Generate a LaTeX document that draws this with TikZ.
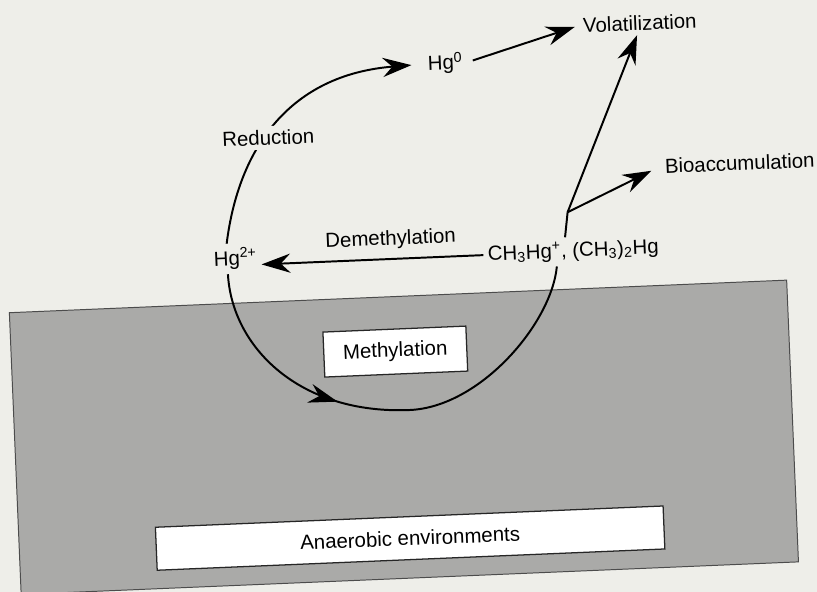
\documentclass[tikz,border=0pt]{standalone}
\usepackage{fontspec}
\setmainfont{Liberation Sans}
\usepackage{tikz}
\usetikzlibrary{arrows.meta,calc,decorations.markings}
\definecolor{paper}{RGB}{238,238,233}
\definecolor{sediment}{RGB}{170,170,168}

\begin{document}
\begin{tikzpicture}[x=0.025cm,y=-0.025cm,
  lbl/.style={font=\fontsize{14.5}{17}\selectfont, inner sep=3pt},
  whitebox/.style={lbl, draw=black!85, fill=white, line width=0.9pt},
  flow/.style={line width=1.4pt, -{Stealth[length=0.72cm,width=0.48cm,inset=0.24cm]}}]
\useasboundingbox (0,0) rectangle (817,592);
\fill[paper] (0,0) rectangle (817,592);
\clip (0,0) rectangle (817,592);
\begin{scope}[rotate around={2.4:(408,296)}, transform shape]
\draw[fill=sediment, draw=black!70, line width=0.7pt] (9,296) rectangle (787,578);
\node[whitebox, minimum width=3.575cm, minimum height=1.125cm] (meth) at (393,351) {Methylation};
\node[whitebox, minimum width=12.7cm, minimum height=1.075cm] (anaer) at (400,538) {Anaerobic environments};

\node[lbl] (vol) at (651,33) {Volatilization};
\node[lbl] (hg0) at (455,65) {Hg\textsuperscript{0}};
\node[lbl] (bio) at (745,177) {Bioaccumulation};
\node[lbl] (demeth) at (393,239) {Demethylation};
\node[lbl, anchor=base] (hg2) at (237,258) {Hg\textsuperscript{2+}};
\node[lbl, anchor=base] (ch3) at (575,264) {CH\textsubscript{3}Hg\textsuperscript{+}, (CH\textsubscript{3})\textsubscript{2}Hg};
\coordinate (split) at (571,219);
\coordinate (trough) at (405,410);

\draw[flow, shorten >=0.3cm] ([xshift=-0.2cm]hg2.north) .. controls (245,140) and (300,70) .. (hg0.west);
\node[lbl, fill=paper] (red) at (275,132) {Reduction};
\draw[flow, shorten <=0.15cm, shorten >=0.1cm] (hg0.east) -- (vol.west);
\draw[line width=1.4pt] ([xshift=-0.19cm]ch3.north) -- (split);
\draw[flow] (split) -- ([xshift=-0.08cm]vol.south);
\draw[flow, shorten >=0.25cm] (split) -- (bio.west);
\draw[flow] (ch3.west) -- (ch3.west -| hg2.east);
\draw[line width=1.4pt, postaction={decorate},
  decoration={markings, mark=at position 0.38 with {\arrow{Stealth[length=0.72cm,width=0.48cm,inset=0.24cm]}}}]
  ([xshift=-0.2cm]hg2.south) .. controls (230,340) and (295,410) .. (trough)
  .. controls (475,410) and (550,330) .. ([xshift=-0.425cm]ch3.south);
\end{scope}
\end{tikzpicture}
\end{document}
